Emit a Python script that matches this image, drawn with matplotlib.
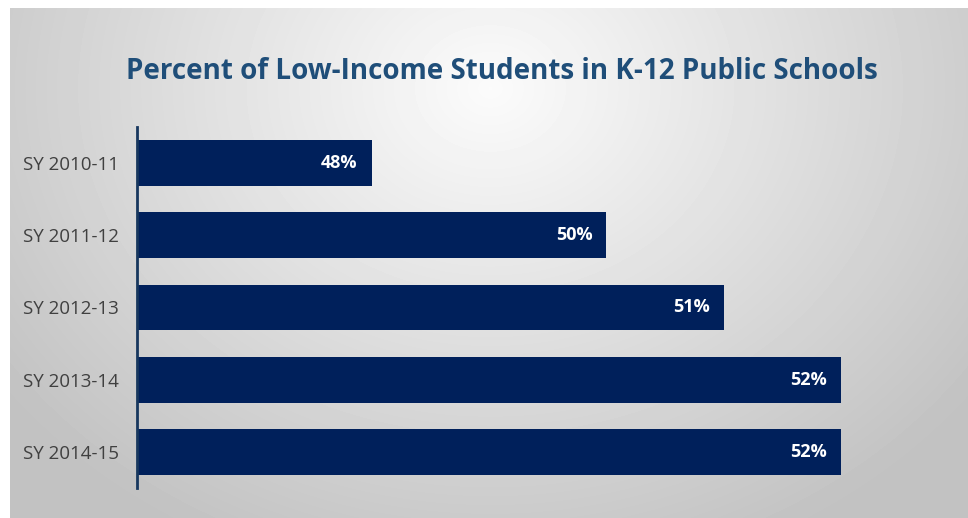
import numpy as np
import matplotlib.pyplot as plt

years = ["SY 2010-11", "SY 2011-12", "SY 2012-13", "SY 2013-14", "SY 2014-15"]
percent = [48, 50, 51, 52, 52]
labels = ["48%", "50%", "51%", "52%", "52%"]

W, H = 968, 518
fig = plt.figure(figsize=(W / 100, H / 100), dpi=100)
fig.patch.set_facecolor("white")

# gray panel with a soft radial highlight near the title
bg = fig.add_axes([10 / W, 0, 1 - 10 / W, 1 - 8 / H])
yy, xx = np.mgrid[0:510, 0:958]
d = np.sqrt(((xx - 480) / 620) ** 2 + ((yy - 80) / 520) ** 2)
shade = np.clip(0.985 - 0.23 * d, 0.76, 1.0)
bg.imshow(shade, cmap="gray", vmin=0, vmax=1, aspect="auto", interpolation="bilinear")
bg.axis("off")

ax = fig.add_axes([137 / W, 1 - 488 / H, (841 - 137) / W, (488 - 127) / H])
ax.patch.set_alpha(0)
pos = np.arange(len(years))
ax.barh(pos, [p - 46 for p in percent], left=46, height=0.635, color="#00205B")
ax.set_xlim(46, 52)
ax.set_ylim(4.5, -0.5)
for s in ["top", "right", "bottom"]:
    ax.spines[s].set_visible(False)
ax.spines["left"].set_color("#17375E")
ax.spines["left"].set_linewidth(2)
ax.set_xticks([])
ax.set_yticks(pos)
ax.set_yticklabels(years, fontsize=13.5, color="#404040", family="Open Sans")
ax.tick_params(axis="y", length=0, pad=13)

for i, p in enumerate(percent):
    ax.text(p - 0.12, i, labels[i], ha="right", va="center", color="white",
            fontsize=13, fontweight="bold", family="Open Sans")

fig.text(502 / W, 1 - 72 / H, "Percent of Low-Income Students in K-12 Public Schools",
         ha="center", va="center", fontsize=20, fontweight="bold",
         color="#1F4E79", family="Open Sans")

fig.savefig("out.png", dpi=100)
